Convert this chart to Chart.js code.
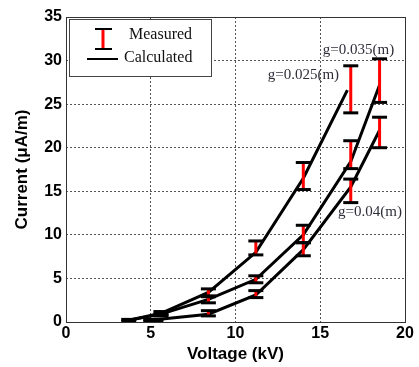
<!DOCTYPE html>
<html>
<head>
<meta charset="utf-8">
<script src="https://cdn.jsdelivr.net/npm/chart.js@4.4.0/dist/chart.umd.min.js"></script>
<style>
  html, body { margin: 0; padding: 0; background: #fff; }
  #wrap { width: 419px; height: 367px; }
</style>
</head>
<body>
<div id="wrap"><canvas id="chart"></canvas></div>
<script>
// --- DATA ---
const X_MIN = 0, X_MAX = 20, X_STEP = 5;
const Y_MIN = 0, Y_MAX = 35, Y_STEP = 5;

// measured (voltage kV, low / high current uA/m)
const measA_v  = [3.7, 5.6, 8.4, 11.2, 14.0, 16.8];
const measA_lo = [0.1, 0.8, 3.0, 7.7, 15.2, 24.0];
const measA_hi = [0.3, 1.2, 3.8, 9.3, 18.3, 29.4];

const measB_v  = [5.6, 8.4, 11.2, 14.0, 16.8, 18.5];
const measB_lo = [0.7, 2.2, 4.5, 9.1, 17.6, 25.2];
const measB_hi = [0.9, 2.9, 5.3, 11.1, 20.8, 30.2];

const measC_v  = [5.0, 5.3, 8.4, 11.2, 14.0, 16.8, 18.5];
const measC_lo = [0.1, 0.1, 0.7, 2.8, 7.6, 13.7, 20.0];
const measC_hi = [0.3, 0.3, 1.3, 3.6, 9.1, 16.4, 23.5];

// calculated curves
const calcA_v = [3.7, 5.6, 8.4, 11.2, 14.0, 16.6];
const calcA_i = [0.2, 1.0, 3.4, 8.0, 16.5, 26.6];
const calcB_v = [3.7, 5.6, 8.4, 11.2, 14.0, 16.8, 18.5];
const calcB_i = [0.2, 0.9, 2.6, 4.9, 10.0, 18.4, 27.2];
const calcC_v = [4.95, 8.4, 11.2, 14.0, 16.8, 18.5];
const calcC_i = [0.2, 0.9, 3.1, 8.3, 15.5, 22.0];

const labels = [
  { text: "g=0.035(m)", x: 15.15, y: 31.2 },
  { text: "g=0.025(m)", x: 11.9, y: 28.3 },
  { text: "g=0.04(m)", x: 16.05, y: 12.6 }
];

// --- BUILD ---
function pts(v, c) { return v.map((x, i) => ({ x: x, y: c[i] })); }
function errPts() {
  const out = [];
  [[measA_v, measA_lo, measA_hi], [measB_v, measB_lo, measB_hi], [measC_v, measC_lo, measC_hi]].forEach(s => {
    s[0].forEach((x, i) => {
      out.push({ x: x, y: s[1][i] }, { x: x, y: s[2][i] }, { x: x, y: null });
    });
  });
  return out;
}

const calcStyle = { borderColor: "#000", borderWidth: 3, pointRadius: 0, fill: false, tension: 0, order: 2 };

const framePlugin = {
  id: "frame",
  afterDraw(chart) {
    const ctx = chart.ctx, a = chart.chartArea;
    const xs = chart.scales.x, ys = chart.scales.y;
    ctx.save();
    ctx.strokeStyle = "#333"; ctx.lineWidth = 1;
    ctx.strokeRect(a.left + 0.5, a.top + 0.5, a.right - a.left, a.bottom - a.top);

    // annotation text
    ctx.fillStyle = "#2e2e3a";
    ctx.font = "15px 'Liberation Serif', serif";
    ctx.textBaseline = "middle"; ctx.textAlign = "left";
    labels.forEach(l => ctx.fillText(l.text, xs.getPixelForValue(l.x), ys.getPixelForValue(l.y)));

    // legend box
    ctx.fillStyle = "#fff";
    ctx.fillRect(69.5, 19.5, 142, 57);
    ctx.strokeStyle = "#444"; ctx.lineWidth = 1;
    ctx.strokeRect(69.5, 19.5, 142, 57);
    ctx.strokeStyle = "#f00"; ctx.lineWidth = 3;
    ctx.beginPath(); ctx.moveTo(103, 29); ctx.lineTo(103, 49); ctx.stroke();
    ctx.strokeStyle = "#000"; ctx.lineWidth = 2;
    ctx.beginPath(); ctx.moveTo(95, 29); ctx.lineTo(112, 29); ctx.moveTo(95, 49); ctx.lineTo(112, 49); ctx.stroke();
    ctx.beginPath(); ctx.moveTo(87, 59); ctx.lineTo(118, 59); ctx.stroke();
    ctx.fillStyle = "#111";
    ctx.font = "16px 'Liberation Serif', serif";
    ctx.fillText("Measured", 129, 35);
    ctx.fillText("Calculated", 124, 58);
    ctx.restore();
  }
};

new Chart(document.getElementById("chart").getContext("2d"), {
  type: "line",
  data: {
    datasets: [
      { label: "Measured", data: errPts(), borderColor: "#f00", borderWidth: 3, spanGaps: false,
        pointStyle: "line", pointRadius: 7.5, pointBorderColor: "#000", pointBorderWidth: 3, order: 1 },
      Object.assign({ label: "Calculated", data: pts(calcA_v, calcA_i) }, calcStyle),
      Object.assign({ label: "Calculated B", data: pts(calcB_v, calcB_i) }, calcStyle),
      Object.assign({ label: "Calculated C", data: pts(calcC_v, calcC_i) }, calcStyle)
    ]
  },
  options: {
    responsive: true, maintainAspectRatio: false, animation: false,
    layout: { padding: { top: 17, right: 14, left: 0, bottom: 0 } },
    plugins: { legend: { display: false }, tooltip: { enabled: false } },
    scales: {
      x: {
        type: "linear", min: X_MIN, max: X_MAX,
        afterFit: s => { s.height = 45; },
        ticks: { stepSize: X_STEP, color: "#000", padding: 2, font: { family: "'Liberation Sans', Arial, sans-serif", size: 16, weight: "bold" } },
        grid: { color: "#555", lineWidth: 1, drawTicks: false },
        border: { display: false, dash: [2, 2] },
        title: { display: true, text: "Voltage (kV)", color: "#000", padding: { top: 0, bottom: 2 }, font: { family: "'Liberation Sans', Arial, sans-serif", size: 17, weight: "bold" } }
      },
      y: {
        type: "linear", min: Y_MIN, max: Y_MAX,
        afterFit: s => { s.width = 66; },
        ticks: { stepSize: Y_STEP, color: "#000", padding: 4, font: { family: "'Liberation Sans', Arial, sans-serif", size: 16, weight: "bold" } },
        grid: { color: "#555", lineWidth: 1, drawTicks: false },
        border: { display: false, dash: [2, 2] },
        title: { display: true, text: "Current (μA/m)", color: "#000", padding: { top: 12, bottom: 0 }, font: { family: "'Liberation Sans', Arial, sans-serif", size: 17, weight: "bold" } }
      }
    }
  },
  plugins: [framePlugin]
});
</script>
</body>
</html>
